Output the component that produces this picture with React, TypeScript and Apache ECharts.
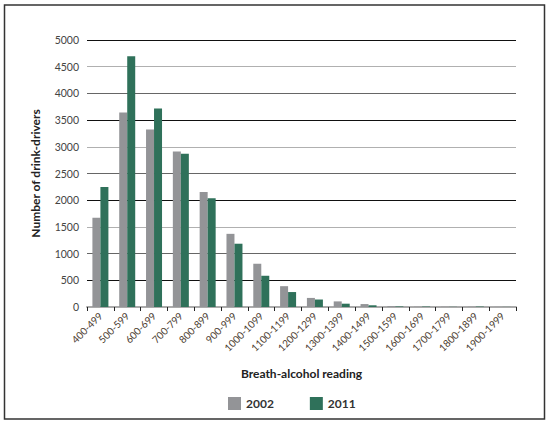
import React, { useEffect, useRef } from "react";
import * as echarts from "echarts";

// breath-alcohol reading bands
const categories = [
  "400-499", "500-599", "600-699", "700-799", "800-899",
  "900-999", "1000-1099", "1100-1199", "1200-1299", "1300-1399",
  "1400-1499", "1500-1599", "1600-1699", "1700-1799", "1800-1899", "1900-1999",
];

// number of drink-drivers
const values2002 = [1670, 3640, 3325, 2910, 2155, 1370, 810, 390, 170, 105, 55, 18, 6, 5, 6, 3];
const values2011 = [2245, 4695, 3718, 2868, 2035, 1185, 585, 280, 140, 62, 32, 10, 8, 3, 8, 2];

const yTicks = { min: 0, max: 5000, interval: 500 };

const FONT = "Lato, 'Noto Sans', sans-serif";

const App = () => {
  const chartRef = useRef<HTMLDivElement>(null);

  useEffect(() => {
    document.body.style.margin = "0";
    const chart = echarts.init(chartRef.current, null, { renderer: "svg" });

    chart.setOption({
      animation: false,
      textStyle: { fontFamily: FONT },
      graphic: [
        {
          type: "rect",
          shape: { x: 4.5, y: 5, width: 540, height: 414 },
          style: { fill: "none", stroke: "#333", lineWidth: 1.5 },
          silent: true,
        },
      ],
      legend: {
        top: 392,
        left: 223,
        itemWidth: 13,
        itemHeight: 13,
        itemGap: 36,
        icon: "rect",
        textStyle: { fontSize: 12, fontWeight: "bold", color: "#333", fontFamily: FONT },
        data: ["2002", "2011"],
      },
      grid: { left: 87, right: 34, top: 40, bottom: 118 },
      xAxis: {
        type: "category",
        data: categories,
        name: "Breath-alcohol reading",
        nameLocation: "middle",
        nameGap: 60,
        nameTextStyle: { fontSize: 12, fontWeight: "bold", color: "#222", fontFamily: FONT },
        axisLine: { lineStyle: { color: "#aaa", width: 2 } },
        axisTick: { show: true, length: 4, lineStyle: { color: "#222", width: 1 } },
        axisLabel: {
          rotate: 45,
          interval: 0,
          fontSize: 10,
          color: "#4a3a2e",
          margin: 7,
          fontFamily: FONT,
        },
      },
      yAxis: {
        type: "value",
        min: yTicks.min,
        max: yTicks.max,
        interval: yTicks.interval,
        name: "Number of drink-drivers",
        nameLocation: "middle",
        nameGap: 46,
        nameTextStyle: { fontSize: 12, fontWeight: "bold", color: "#222", fontFamily: FONT },
        axisLine: { show: false },
        axisTick: { show: false },
        axisLabel: {
          fontSize: 10.5,
          color: "#444",
          margin: 8,
          fontFamily: FONT,
          formatter: (v: number) => String(v),
        },
        splitLine: {
          lineStyle: { color: ["#b0b0b0", "#111", "#666"], width: 1.2 },
        },
      },
      series: [
        {
          name: "2002",
          type: "bar",
          data: values2002,
          barWidth: 8,
          barGap: "0%",
          itemStyle: { color: "#939497" },
        },
        {
          name: "2011",
          type: "bar",
          data: values2011,
          barWidth: 8,
          barGap: "0%",
          itemStyle: { color: "#2f715a" },
        },
      ],
    });

    return () => chart.dispose();
  }, []);

  return <div ref={chartRef} style={{ width: "550px", height: "425px" }} />;
};

export default App;
